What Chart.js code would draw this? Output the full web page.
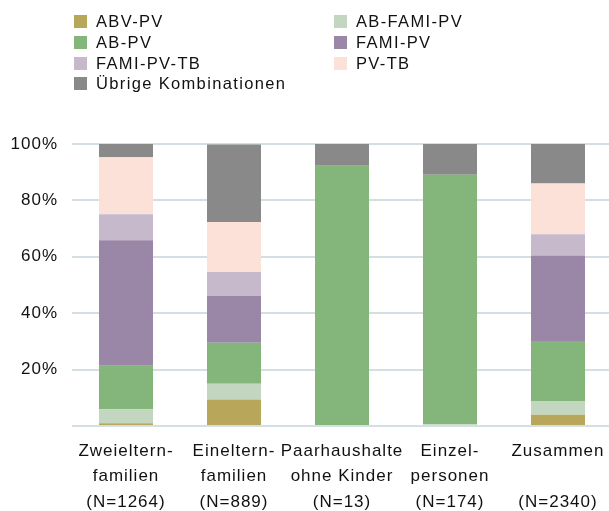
<!DOCTYPE html>
<html lang="de">
<head>
<meta charset="utf-8">
<script src="https://cdn.jsdelivr.net/npm/chart.js@4/dist/chart.umd.min.js"></script>
<style>
  html, body { margin: 0; padding: 0; background: #fff; overflow: hidden; }
  #wrap { position: relative; width: 620px; height: 511px; }
  #legend { position: absolute; left: 0; top: 0; width: 609px; height: 100px;
            font-family: 'Liberation Sans', Arial, sans-serif; font-size: 16.5px;
            letter-spacing: 1.35px; color: #111; }
  .item { position: absolute; height: 20px; line-height: 20px; white-space: nowrap; }
  .sw { position: absolute; left: 0; top: 4px; width: 13px; height: 13px; }
  .lbl { position: absolute; left: 22px; top: 0; }
</style>
</head>
<body>
<div id="wrap">
  <canvas id="chart" width="620" height="511"></canvas>
  <div id="legend"></div>
</div>
<script>
// Haushaltstypen (x-axis categories, one array per label line)
const categories = [
  ['Zweieltern-', 'familien', '(N=1264)'],
  ['Eineltern-', 'familien', '(N=889)'],
  ['Paarhaushalte', 'ohne Kinder', '(N=13)'],
  ['Einzel-', 'personen', '(N=174)'],
  ['Zusammen', '', '(N=2340)']
];

// Anteile der Leistungskombinationen in Prozent
const abvPv      = [1.0,  9.4,  0.0,  0.0,  4.0];
const abFamiPv   = [4.9,  5.6,  0.0,  0.6,  4.9];
const abPv       = [15.5, 14.5, 92.3, 88.5, 21.2];
const famiPv     = [44.5, 16.6, 0.0,  0.0,  30.4];
const famiPvTb   = [9.2,  8.5,  0.0,  0.0,  7.5];
const pvTb       = [20.2, 17.7, 0.0,  0.0,  18.0];
const uebrige    = [4.7,  27.5, 7.7,  10.9, 14.0];

const yTicks = [0, 20, 40, 60, 80, 100];

const series = [
  { label: 'ABV-PV',               data: abvPv,    color: '#b8a75a' },
  { label: 'AB-FAMI-PV',           data: abFamiPv, color: '#c3d6c0' },
  { label: 'AB-PV',                data: abPv,     color: '#84b57b' },
  { label: 'FAMI-PV',              data: famiPv,   color: '#9a87a8' },
  { label: 'FAMI-PV-TB',           data: famiPvTb, color: '#c6b9cb' },
  { label: 'PV-TB',                data: pvTb,     color: '#fbe1d7' },
  { label: 'Übrige Kombinationen', data: uebrige,  color: '#898989' }
];

// two-column legend, filled row by row
const legend = document.getElementById('legend');
series.forEach((s, i) => {
  const col = i % 2, row = Math.floor(i / 2);
  const item = document.createElement('div');
  item.className = 'item';
  item.style.left = (col === 0 ? 74 : 334) + 'px';
  item.style.top = (11 + row * 20.8) + 'px';
  const sw = document.createElement('span');
  sw.className = 'sw';
  sw.style.background = s.color;
  const lbl = document.createElement('span');
  lbl.className = 'lbl';
  lbl.textContent = s.label;
  item.appendChild(sw);
  item.appendChild(lbl);
  legend.appendChild(item);
});

// widened character spacing for the axis labels
const spacing = {
  id: 'spacing',
  beforeLayout(c) { c.ctx.letterSpacing = '1px'; },
  beforeDraw(c) { c.ctx.letterSpacing = '1px'; }
};

const family = "'Liberation Sans', Arial, sans-serif";

new Chart(document.getElementById('chart'), {
  type: 'bar',
  data: {
    labels: categories,
    datasets: series.map(s => ({
      label: s.label,
      data: s.data,
      backgroundColor: s.color,
      borderWidth: 0,
      barPercentage: 1,
      categoryPercentage: 0.5
    }))
  },
  options: {
    responsive: false,
    animation: false,
    layout: { padding: { top: 144, right: 8, bottom: 0, left: 0 } },
    plugins: { legend: { display: false }, tooltip: { enabled: false } },
    scales: {
      x: {
        stacked: true,
        grid: { display: false, drawTicks: false },
        border: { display: false },
        ticks: {
          font: { family: family, size: 17, lineHeight: 1.48 },
          color: '#111', padding: 13, maxRotation: 0, autoSkip: false
        },
        afterFit(s) { s.height = 85; }
      },
      y: {
        stacked: true,
        min: 0,
        max: 100,
        afterBuildTicks(s) { s.ticks = yTicks.map(v => ({ value: v })); },
        grid: { color: '#d4dfe4', lineWidth: 2, drawTicks: false },
        border: { display: false },
        ticks: {
          font: { family: family, size: 17 },
          color: '#111',
          padding: 14,
          callback: v => (v === 0 ? '' : v + '%')
        },
        afterFit(s) { s.width = 72; }
      }
    }
  },
  plugins: [spacing]
});
</script>
</body>
</html>
